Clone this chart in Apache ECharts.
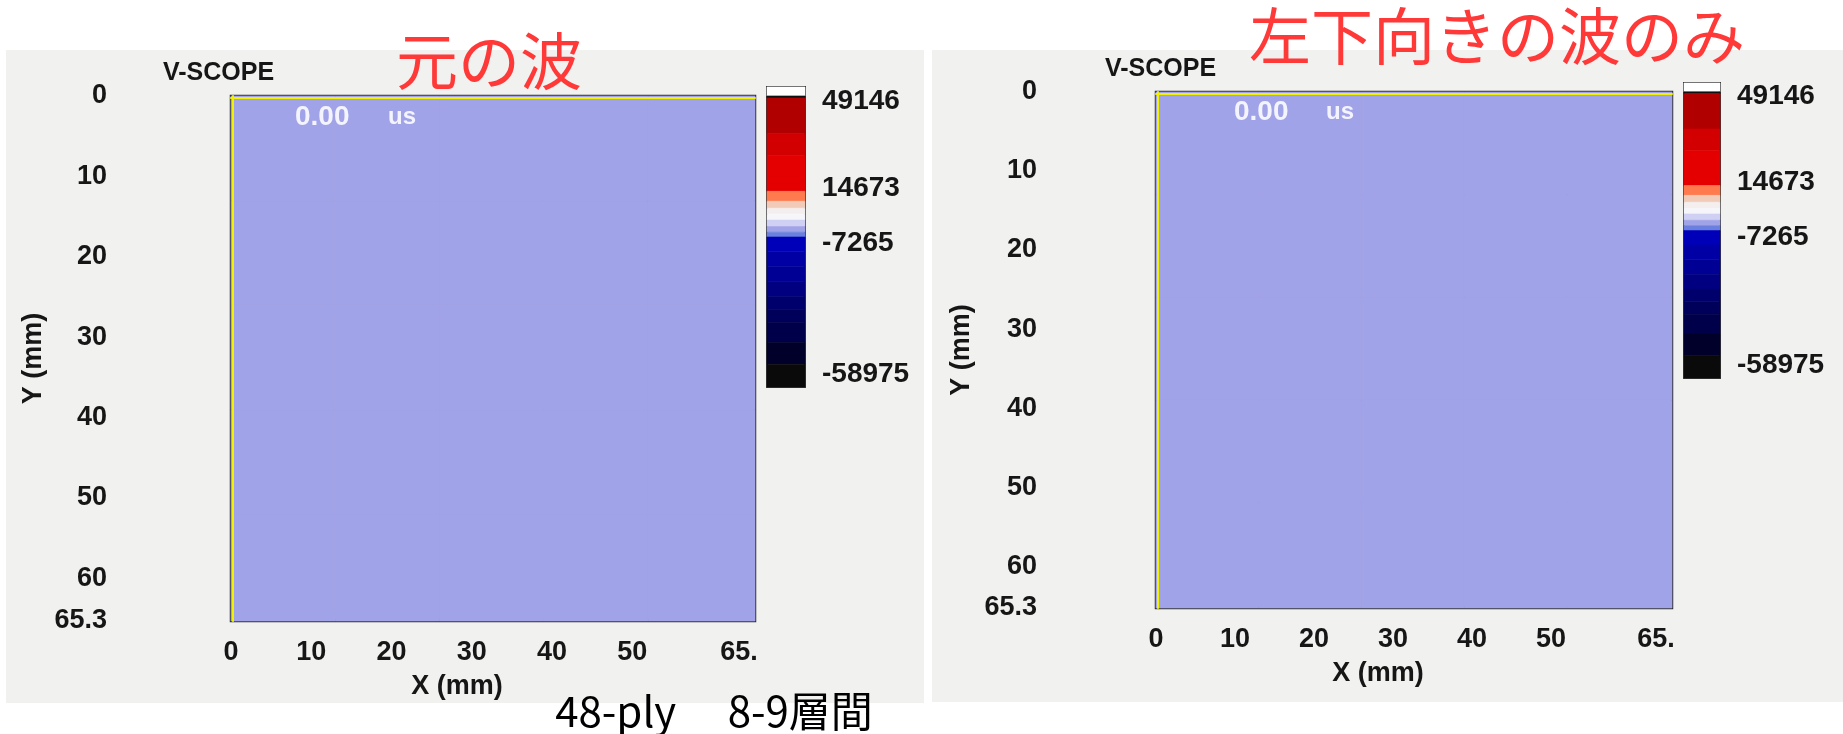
<!DOCTYPE html>
<html>
<head>
<meta charset="utf-8">
<script src="https://cdn.jsdelivr.net/npm/echarts/dist/echarts.min.js"></script>
<style>
html,body{margin:0;padding:0;background:#ffffff;}
#chart{width:1843px;height:734px;}
</style>
</head>
<body>
<div id="chart"></div>
<script>
// ---------- data ----------
const panelTitles = ['元の波', '左下向きの波のみ'];
const footnote = '48-ply\u3000 8-9層間';
const scopeLabel = 'V-SCOPE';
const timeValue = '0.00';
const timeUnit = 'us';
const xName = 'X (mm)';
const yName = 'Y (mm)';
const axisMax = 65.3;
const xTickValues = [0, 10, 20, 30, 40, 50, 65.3];
const yTickValues = [0, 10, 20, 30, 40, 50, 60, 65.3];
const colorbarTicks = [49146, 14673, -7265, -58975];
const colorbarMin = -64087;
const colorbarMax = 54650;
// colour-band thresholds of the scale (top to bottom)
const bandEdges = [54650, 51112, 50326, 36171, 27522, 13368, 9437, 6685, 4324, 1966, -600, -2800, -4718, -10600, -16513, -22400, -28308, -33400, -38531, -46394, -55044, -64087];
// field cell edges (mm) and values (nearly uniform)
const fieldEdges = [0, 13, 26, 39, 52, 65.3];
const leftField = [
  [-1500, -1550, -1600, -1550, -1500],
  [-1550, -1650, -1750, -1650, -1550],
  [-1550, -1700, -1800, -1700, -1600],
  [-1500, -1650, -1750, -1650, -1550],
  [-1500, -1550, -1600, -1550, -1500]
];
const rightField = [
  [-1450, -1450, -1450, -1450, -1450],
  [-1450, -1450, -1450, -1450, -1450],
  [-1450, -1450, -1450, -1450, -1450],
  [-1450, -1450, -1450, -1450, -1450],
  [-1450, -1450, -1450, -1450, -1450]
];

// ---------- styles ----------
const bandColors = ['#ffffff', '#111111', '#b00000', '#d20000', '#e40000', '#ff7a4e', '#f2cbb8', '#f4eeee',
  '#f6f6fa', '#cfd0f4', '#a1a3e8', '#6a80de', '#0000b8', '#0000a4', '#000094', '#000080', '#00006c', '#00005a',
  '#00004a', '#00002a', '#0a0a0a'];

const FONT = "'Liberation Sans', Arial, sans-serif";
const CJK = "'Noto Sans CJK JP', 'Noto Sans', sans-serif";
const tickStyle = {fontFamily: FONT, fontSize: 27, fontWeight: 'bold', color: '#161616'};

// ---------- build ----------
function cells(field) {
  const out = [];
  for (let r = 0; r < field.length; r++) {
    for (let c = 0; c < field[r].length; c++) {
      out.push([fieldEdges[c], fieldEdges[c + 1], fieldEdges[r], fieldEdges[r + 1], field[r][c]]);
    }
  }
  return out;
}
function bandCells() {
  const out = [];
  for (let i = 0; i < bandEdges.length - 1; i++) {
    const hi = bandEdges[i], lo = bandEdges[i + 1];
    out.push([0, 1, lo, hi, (lo + hi) / 2]);
  }
  return out;
}
const pieces = [];
for (let i = 0; i < bandEdges.length - 1; i++) {
  pieces.push({gte: bandEdges[i + 1], lt: bandEdges[i], color: bandColors[i]});
}
pieces[0].lte = bandEdges[0]; delete pieces[0].lt;

function renderRect(params, api) {
  const p0 = api.coord([api.value(0), api.value(2)]);
  const p1 = api.coord([api.value(1), api.value(3)]);
  const c = api.visual('color');
  return {
    type: 'rect',
    shape: {x: Math.min(p0[0], p1[0]), y: Math.min(p0[1], p1[1]),
            width: Math.abs(p1[0] - p0[0]), height: Math.abs(p1[1] - p0[1])},
    style: {fill: c, stroke: c, lineWidth: 0.6}
  };
}

const panels = [
  {grid: {left: 231, top: 96, width: 524, height: 525}, cb: {left: 767, top: 87, width: 38, height: 300},
   yGap: 184, xGap: 52, labelMargin: 18, yMargin: 124, field: leftField},
  {grid: {left: 1156, top: 92, width: 516, height: 516}, cb: {left: 1684, top: 83, width: 36, height: 295},
   yGap: 181, xGap: 52, labelMargin: 18, yMargin: 119, field: rightField}
];

const grid = [], xAxis = [], yAxis = [], series = [];
panels.forEach((p, i) => {
  const gFieldIdx = grid.length;
  grid.push(Object.assign({show: true, borderColor: '#333333', borderWidth: 2.5, backgroundColor: '#a1a3e8'}, p.grid));
  const gCbIdx = grid.length;
  grid.push(Object.assign({show: true, borderColor: '#3a3a3a', borderWidth: 2, backgroundColor: '#ffffff'}, p.cb));

  const xMain = xAxis.length;
  xAxis.push({
    type: 'value', gridIndex: gFieldIdx, min: 0, max: axisMax, position: 'bottom',
    axisLine: {show: false}, axisTick: {show: false}, splitLine: {show: false},
    axisLabel: Object.assign({customValues: xTickValues, margin: p.labelMargin,
      formatter: v => v === axisMax ? '{r|65.}' : String(v),
      rich: {r: Object.assign({padding: [0, 32, 0, 0]}, tickStyle)}}, tickStyle),
    name: xName, nameLocation: 'middle', nameGap: p.xGap,
    nameTextStyle: Object.assign({padding: [0, 72, 0, 0]}, tickStyle)
  });
  xAxis.push({
    type: 'value', gridIndex: gFieldIdx, min: 0, max: axisMax, position: 'top', offset: -2, z: 10,
    axisLine: {show: true, lineStyle: {color: '#f2f200', width: 2}},
    axisTick: {show: false}, axisLabel: {show: false}, splitLine: {show: false}
  });
  const yMain = yAxis.length;
  yAxis.push({
    type: 'value', gridIndex: gFieldIdx, min: 0, max: axisMax, inverse: true, position: 'left', offset: -2, z: 10,
    axisLine: {show: true, lineStyle: {color: '#f2f200', width: 2}},
    axisTick: {show: false}, splitLine: {show: false},
    axisLabel: Object.assign({customValues: yTickValues, margin: p.yMargin + 2,
      formatter: v => String(v)}, tickStyle),
    name: yName, nameLocation: 'middle', nameGap: p.yGap + 2, nameRotate: 90,
    nameTextStyle: tickStyle
  });
  const xCb = xAxis.length;
  xAxis.push({type: 'value', gridIndex: gCbIdx, min: 0, max: 1, show: false});
  const yCb = yAxis.length;
  yAxis.push({
    type: 'value', gridIndex: gCbIdx, min: colorbarMin, max: colorbarMax, position: 'right',
    axisLine: {show: false}, axisTick: {show: false}, splitLine: {show: false},
    axisLabel: Object.assign({customValues: colorbarTicks, margin: 17, formatter: v => String(v)},
      tickStyle, {fontSize: 28})
  });
  series.push({
    type: 'custom', name: 'field' + i, xAxisIndex: xMain, yAxisIndex: yMain,
    encode: {x: [0, 1], y: [2, 3]}, renderItem: renderRect, data: cells(p.field), silent: true
  });
  series.push({
    type: 'custom', name: 'scale' + i, xAxisIndex: xCb, yAxisIndex: yCb,
    encode: {x: [0, 1], y: [2, 3]}, renderItem: renderRect, data: bandCells(), silent: true
  });
});

const txt = (x, y, text, style) => ({type: 'text', x: x, y: y, z: 100,
  style: Object.assign({text: text, textVerticalAlign: 'middle'}, style)});

const chart = echarts.init(document.getElementById('chart'), null, {renderer: 'canvas'});
chart.setOption({
  animation: false,
  backgroundColor: '#ffffff',
  grid: grid, xAxis: xAxis, yAxis: yAxis, series: series,
  visualMap: {type: 'piecewise', show: false, dimension: 4, seriesIndex: [0, 1, 2, 3], pieces: pieces},
  graphic: [
    {type: 'rect', z: -100, shape: {x: 6, y: 50, width: 918, height: 653}, style: {fill: '#f1f1f0'}},
    {type: 'rect', z: -100, shape: {x: 932, y: 50, width: 911, height: 652}, style: {fill: '#f1f1f0'}},
    txt(163, 73, scopeLabel, {font: 'bold 25px ' + FONT, fill: '#161616'}),
    txt(1105, 69, scopeLabel, {font: 'bold 25px ' + FONT, fill: '#161616'}),
    txt(295, 117, timeValue, {font: 'bold 28px ' + FONT, fill: '#f4f4ff'}),
    txt(388, 117, timeUnit, {font: 'bold 24px ' + FONT, fill: '#f4f4ff'}),
    txt(1234, 112, timeValue, {font: 'bold 28px ' + FONT, fill: '#f4f4ff'}),
    txt(1326, 112, timeUnit, {font: 'bold 24px ' + FONT, fill: '#f4f4ff'}),
    txt(489, 61, panelTitles[0], {font: '62px ' + CJK, fill: '#ff3838', textAlign: 'center'}),
    txt(1497, 36, panelTitles[1], {font: '62px ' + CJK, fill: '#ff3838', textAlign: 'center'}),
    txt(714, 711, footnote, {font: '42px ' + CJK, fill: '#000000', textAlign: 'center'})
  ]
});
</script>
</body>
</html>
